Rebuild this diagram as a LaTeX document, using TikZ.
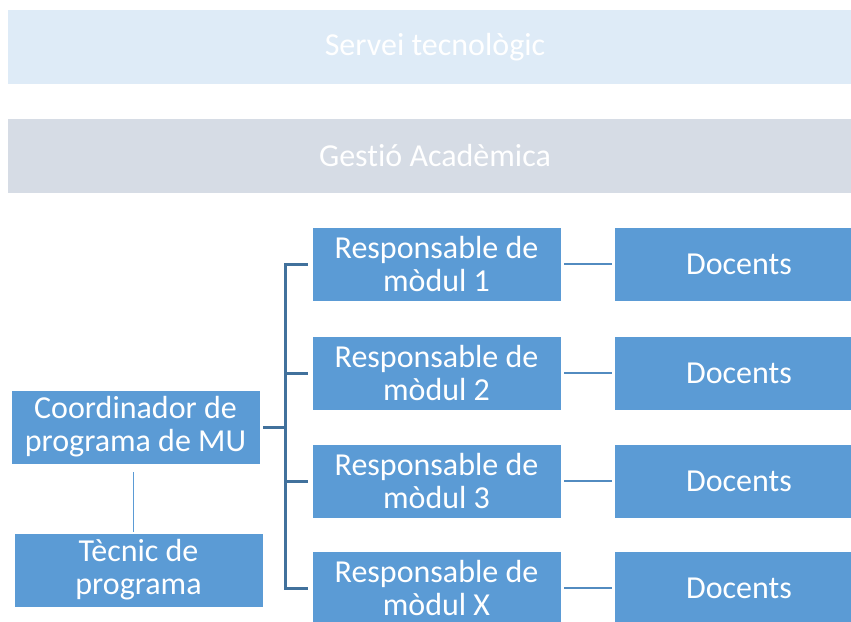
\documentclass[tikz,border=0pt]{standalone}
\usepackage{fontspec}
\setmainfont{Carlito}[Ligatures=NoCommon]
\usepackage{xcolor}
\usepackage{tikz}
\usetikzlibrary{arrows.meta}
\definecolor{boxblue}{HTML}{5B9BD5}
\definecolor{darkblue}{HTML}{41719C}
\definecolor{barblue}{HTML}{DEEBF7}
\definecolor{bargrey}{HTML}{D6DCE5}

\begin{document}
\begin{tikzpicture}[x=1pt, y=-1pt,
  orgbox/.style={font=\fontsize{32}{33}\selectfont, fill=boxblue, draw=white, line width=0.8pt, text=white, minimum width=249, minimum height=74, inner sep=2, align=center},
  bar/.style={font=\fontsize{32}{33}\selectfont, text=white, minimum width=854, minimum height=74, inner sep=2, align=center},
  trunk/.style={draw=darkblue, line width=3pt},
  link/.style={draw=boxblue!90!black, line width=2pt},
  thinlink/.style={draw=boxblue, line width=1pt}]
\useasboundingbox (0,0) rectangle (851,621);
%top bars
\node[bar, fill=barblue] (serv) at (435,47) {Servei tecnològic};
\node[bar, fill=bargrey] (gest) at (435,156) {Gestió Acadèmica};
%left column
\node[orgbox] (coord) at (135.5,427) {Coordinador de\\programa de MU};
\node[orgbox] (tecn) at (138.5,570) {Tècnic de\\programa};
%modules
\node[orgbox] (resp1) at (436.5,264) {Responsable de\\mòdul 1};
\node[orgbox] (resp2) at (436.5,373) {Responsable de\\mòdul 2};
\node[orgbox] (resp3) at (436.5,481) {Responsable de\\mòdul 3};
\node[orgbox] (resp4) at (436.5,588) {Responsable de\\mòdul X};
\node[orgbox] (doc1) at (739,264) {Docents};
\node[orgbox] (doc2) at (739,373) {Docents};
\node[orgbox] (doc3) at (739,481) {Docents};
\node[orgbox] (doc4) at (739,588) {Docents};
\coordinate (spine) at (285,427);
\draw [trunk, shorten <=3pt] (coord.east) -- (spine);
\foreach \i in {1,...,4}
  \draw [trunk, shorten >=4pt] (spine) |- (resp\i.west);
\foreach \i in {1,...,4}
  \draw [link, shorten <=3pt, shorten >=2pt] (resp\i.east) -- (doc\i.west);
\draw [thinlink, shorten <=8pt, shorten >=1pt] ([xshift=-2.5]coord.south) -- ([xshift=-2.5]coord.south |- tecn.north);
\end{tikzpicture}
\end{document}
